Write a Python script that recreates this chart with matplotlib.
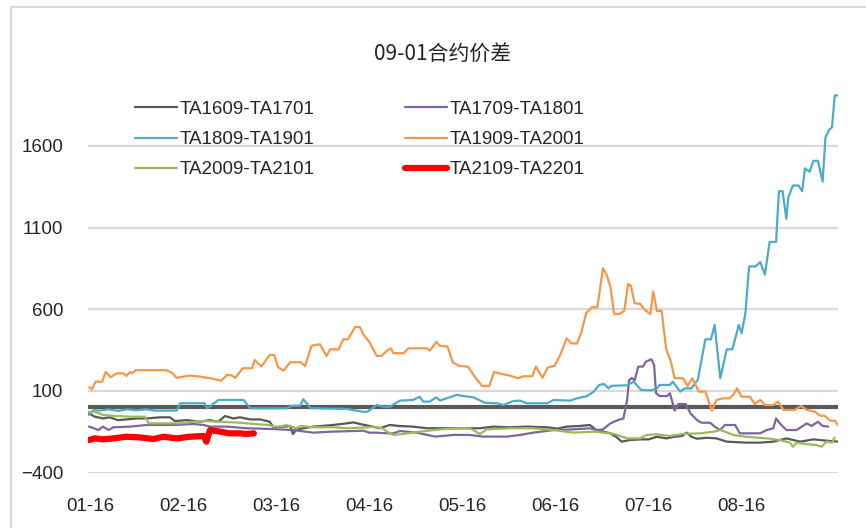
import matplotlib
matplotlib.use("Agg")
import matplotlib.pyplot as plt
from matplotlib.patches import Rectangle

plt.rcParams['font.family'] = ['Liberation Sans Narrow', 'Liberation Sans', 'Noto Sans CJK SC', 'DejaVu Sans']

# x is measured in months after 01-16 (category-like axis of the source)
month_labels = ['01-16', '02-16', '03-16', '04-16', '05-16', '06-16', '07-16', '08-16']
y_ticks = [-400, 100, 600, 1100, 1600]

t_1609 = [-0.01, 0.05, 0.14, 0.21, 0.30, 0.39, 0.50, 0.61, 0.75, 0.86, 0.91, 1.04, 1.18, 1.29, 1.36, 1.40,
          1.45, 1.54, 1.61, 1.72, 1.83, 1.93, 1.97, 2.08, 2.15, 2.18, 2.22, 2.40, 2.61, 2.76, 2.83, 2.90,
          3.00, 3.11, 3.22, 3.32, 3.47, 3.62, 3.90, 4.19, 4.33, 4.51, 4.69, 4.91, 5.02, 5.12, 5.26, 5.37,
          5.44, 5.59, 5.66, 5.71, 5.80, 5.91, 6.00, 6.09, 6.19, 6.28, 6.36, 6.41, 6.46, 6.52, 6.63, 6.73,
          6.84, 7.05, 7.20, 7.34, 7.48, 7.63, 7.77, 7.91, 8.04]
v_1609 = [-37, -57, -68, -61, -78, -74, -68, -68, -61, -61, -84, -78, -88, -78, -88, -78,
          -53, -68, -61, -74, -74, -88, -122, -118, -114, -163, -135, -118, -108, -98, -92, -102,
          -114, -128, -108, -114, -118, -128, -128, -128, -118, -122, -118, -122, -130, -118, -114, -108,
          -139, -159, -184, -210, -200, -196, -196, -180, -190, -180, -175, -155, -180, -192, -186, -190,
          -210, -216, -216, -210, -190, -210, -196, -204, -210]

t_1709 = [-0.01, 0.04, 0.09, 0.14, 0.20, 0.25, 0.43, 0.61, 0.90, 1.11, 1.22, 1.29, 1.47, 1.68, 1.97, 2.18,
          2.40, 2.58, 2.94, 3.00, 3.07, 3.21, 3.26, 3.33, 3.51, 3.71, 3.90, 4.08, 4.22, 4.48, 4.62, 4.76,
          4.98, 5.19, 5.37, 5.44, 5.51, 5.59, 5.67, 5.73, 5.77, 5.79, 5.82, 5.85, 5.89, 5.94, 5.97, 6.03,
          6.06, 6.08, 6.12, 6.20, 6.23, 6.28, 6.32, 6.40, 6.45, 6.52, 6.57, 6.66, 6.71, 6.77, 6.82, 6.93,
          6.98, 7.20, 7.27, 7.34, 7.37, 7.41, 7.48, 7.59, 7.70, 7.75, 7.82, 7.87, 7.93]
v_1709 = [-118, -128, -139, -118, -139, -122, -118, -108, -108, -102, -108, -118, -118, -128, -133, -139,
          -155, -149, -143, -155, -155, -159, -159, -145, -155, -179, -169, -169, -179, -179, -169, -155,
          -139, -135, -128, -139, -135, -98, -78, -68, 45, 165, 180, 165, 249, 249, 279, 294,
          259, 86, 69, 69, 86, -20, 20, 20, -37, -78, -94, -94, -118, -139, -108, -108,
          -159, -159, -139, -128, -68, -98, -139, -139, -98, -114, -88, -114, -118]

t_1809 = [-0.01, 0.04, 0.10, 0.20, 0.30, 0.40, 0.50, 0.60, 0.70, 0.80, 0.93, 0.97, 1.23, 1.26, 1.38, 1.65,
          1.72, 2.11, 2.17, 2.26, 2.29, 2.37, 2.76, 2.93, 2.98, 3.08, 3.15, 3.22, 3.26, 3.33, 3.47, 3.54,
          3.58, 3.65, 3.72, 3.76, 3.83, 3.94, 4.01, 4.12, 4.24, 4.37, 4.44, 4.55, 4.62, 4.69, 4.91, 4.98,
          5.16, 5.23, 5.34, 5.41, 5.47, 5.52, 5.57, 5.60, 5.77, 5.84, 5.92, 6.03, 6.09, 6.12, 6.23, 6.26,
          6.34, 6.39, 6.46, 6.53, 6.61, 6.67, 6.71, 6.77, 6.84, 6.90, 6.97, 7.00, 7.04, 7.08, 7.15, 7.20,
          7.25, 7.30, 7.37, 7.40, 7.44, 7.48, 7.50, 7.55, 7.61, 7.65, 7.68, 7.73, 7.77, 7.82, 7.87, 7.90,
          7.94, 7.97, 8.00, 8.04]
v_1809 = [-47, -16, -20, -12, -22, -12, -18, -12, -20, -20, -20, 25, 25, -6, 45, 45,
          -6, -6, 10, 10, 50, -5, -10, -27, -27, 14, 4, 4, 18, 41, 45, 65,
          35, 35, 61, 41, 55, 76, 69, 61, 28, 25, 14, 39, 41, 25, 25, 45,
          41, 55, 69, 96, 137, 143, 116, 131, 135, 157, 106, 104, 116, 137, 137, 157,
          96, 116, 116, 170, 416, 416, 504, 178, 355, 355, 504, 453, 576, 862, 862, 889,
          812, 1012, 1012, 1322, 1322, 1153, 1281, 1357, 1357, 1322, 1462, 1441, 1508, 1508, 1380, 1651,
          1698, 1712, 1908, 1908]

t_1909 = [-0.01, 0.02, 0.06, 0.13, 0.17, 0.22, 0.29, 0.36, 0.39, 0.43, 0.45, 0.49, 0.82, 0.88, 0.93, 1.07,
          1.18, 1.32, 1.41, 1.47, 1.52, 1.56, 1.64, 1.74, 1.77, 1.84, 1.93, 1.98, 2.02, 2.08, 2.15, 2.26,
          2.31, 2.38, 2.47, 2.54, 2.58, 2.67, 2.72, 2.77, 2.85, 2.90, 2.94, 3.00, 3.08, 3.13, 3.19, 3.23,
          3.26, 3.37, 3.42, 3.62, 3.65, 3.72, 3.76, 3.84, 3.90, 3.97, 4.06, 4.12, 4.21, 4.29, 4.34, 4.44,
          4.51, 4.60, 4.65, 4.75, 4.79, 4.86, 4.92, 4.99, 5.05, 5.12, 5.17, 5.23, 5.28, 5.33, 5.39, 5.45,
          5.51, 5.55, 5.59, 5.63, 5.69, 5.74, 5.78, 5.81, 5.85, 5.91, 5.96, 6.02, 6.05, 6.09, 6.14, 6.19,
          6.24, 6.28, 6.37, 6.42, 6.47, 6.54, 6.61, 6.68, 6.73, 6.80, 6.87, 6.91, 6.95, 7.00, 7.09, 7.14,
          7.20, 7.25, 7.34, 7.39, 7.45, 7.57, 7.64, 7.70, 7.79, 7.84, 7.89, 7.95, 8.00, 8.04]
v_1909 = [123, 110, 157, 157, 218, 184, 208, 208, 192, 216, 208, 227, 227, 212, 181, 194,
          188, 175, 163, 198, 196, 180, 239, 239, 290, 249, 320, 320, 245, 224, 276, 276,
          253, 377, 386, 314, 355, 355, 416, 416, 493, 490, 443, 400, 314, 314, 347, 361,
          331, 331, 361, 361, 347, 400, 376, 372, 273, 253, 249, 198, 131, 131, 216, 202,
          194, 178, 190, 190, 249, 181, 245, 253, 320, 422, 392, 390, 463, 576, 612, 612,
          851, 810, 738, 571, 571, 592, 755, 743, 637, 633, 596, 571, 708, 590, 590, 355,
          279, 178, 178, 131, 178, 96, 96, -20, 45, 55, 55, 76, 116, 65, 65, 20,
          45, 14, 14, 35, -16, -16, 8, -16, -27, -51, -51, -82, -82, -112]

t_2009 = [-0.01, 0.05, 0.14, 0.29, 0.43, 0.59, 0.63, 0.75, 0.97, 1.11, 1.25, 1.40, 1.61, 1.76, 1.93, 1.97,
          2.04, 2.11, 2.22, 2.26, 2.40, 2.61, 2.76, 3.00, 3.04, 3.14, 3.19, 3.26, 3.37, 3.54, 3.76, 3.94,
          4.08, 4.19, 4.26, 4.51, 4.76, 4.98, 5.19, 5.41, 5.52, 5.63, 5.77, 5.91, 5.98, 6.09, 6.23, 6.37,
          6.55, 6.70, 6.77, 6.82, 6.91, 7.05, 7.27, 7.41, 7.52, 7.55, 7.59, 7.70, 7.80, 7.86, 7.91, 7.97,
          8.00]
v_2009 = [-27, -27, -47, -53, -57, -57, -98, -98, -98, -88, -84, -88, -94, -102, -108, -118,
          -118, -108, -128, -114, -122, -122, -128, -122, -118, -128, -149, -169, -163, -149, -135, -128,
          -128, -163, -135, -128, -128, -139, -155, -149, -155, -163, -190, -190, -169, -165, -175, -163,
          -159, -149, -139, -149, -169, -180, -190, -200, -216, -241, -216, -225, -231, -241, -210, -216,
          -184]

t_2109 = [-0.01, 0.05, 0.14, 0.25, 0.39, 0.54, 0.68, 0.79, 0.93, 1.07, 1.22, 1.25, 1.29, 1.40, 1.50, 1.61,
          1.68, 1.76]
v_2109 = [-200, -190, -196, -190, -180, -184, -194, -180, -190, -180, -175, -210, -139, -149, -159, -159,
          -163, -159]

series = [
    ('TA1609-TA1701', t_1609, v_1609, '#595959', 1.6),
    ('TA1709-TA1801', t_1709, v_1709, '#8064A2', 1.6),
    ('TA1809-TA1901', t_1809, v_1809, '#4BACC6', 1.6),
    ('TA1909-TA2001', t_1909, v_1909, '#F79646', 1.6),
    ('TA2009-TA2101', t_2009, v_2009, '#9BBB59', 1.6),
    ('TA2109-TA2201', t_2109, v_2109, '#FF0000', 4.5),
]

fig = plt.figure(figsize=(8.66, 5.28), dpi=100)
fig.patches.append(Rectangle((11 / 866, -0.1), 1.2, 1.0 - 7 / 528 + 0.1, transform=fig.transFigure,
                             fill=False, edgecolor='#D9D9D9', linewidth=1.5))

ax = fig.add_axes([0.102, 0.1047, 0.866, 0.743])
for s in ax.spines.values():
    s.set_visible(False)

for yt in y_ticks:
    ax.axhline(yt, color='#D9D9D9', linewidth=1.6, zorder=0)
ax.axhline(0, color='#595959', linewidth=3.0, zorder=1)

lines = {}
for name, t, v, c, lw in series:
    (ln,) = ax.plot(t, v, color=c, linewidth=lw, label=name, solid_capstyle='round',
                    solid_joinstyle='round', zorder=2)
    lines[name] = ln

ax.set_xlim(-0.018, 8.038)
ax.set_ylim(-400, 2000)
ax.set_xticks(range(len(month_labels)))
ax.set_xticklabels(month_labels)
ax.set_yticks(y_ticks)
ax.tick_params(length=0, labelsize=13.5, colors='#262626')
ax.tick_params(axis='x', pad=18)
ax.tick_params(axis='y', pad=18)

order = ['TA1609-TA1701', 'TA1809-TA1901', 'TA2009-TA2101',
         'TA1709-TA1801', 'TA1909-TA2001', 'TA2109-TA2201']
fig.legend([lines[k] for k in order], order, ncol=2, frameon=False, fontsize=13.5,
           loc='upper left', bbox_to_anchor=(118 / 866, 1 - 84 / 528),
           handlelength=2.25, handletextpad=0.15, columnspacing=4.8, labelspacing=0.7,
           labelcolor='#262626')

fig.text(443 / 866, 1 - 54 / 528, '09-01合约价差', ha='center', va='center', fontsize=15,
         color='#262626', family=['Liberation Sans Narrow', 'Noto Sans CJK SC', 'DejaVu Sans'])

fig.savefig('out.png', dpi=100, facecolor='white')
